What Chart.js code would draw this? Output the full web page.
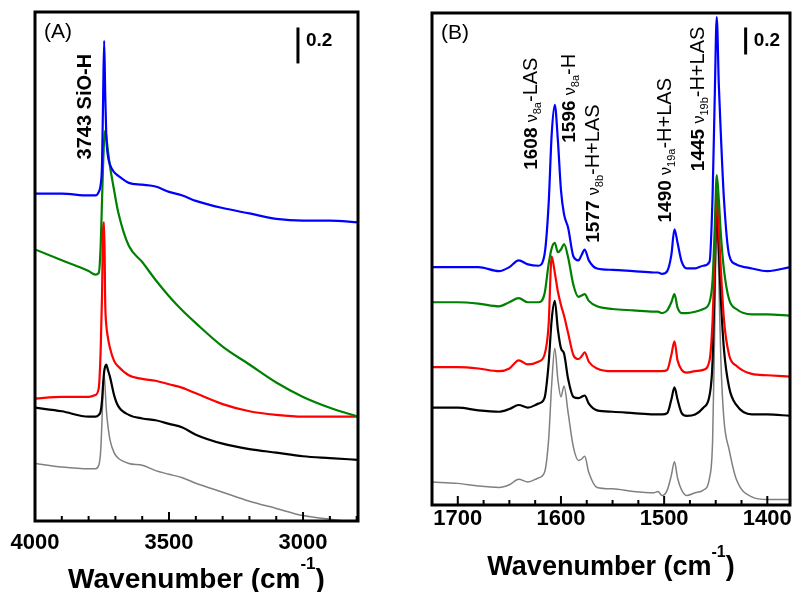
<!DOCTYPE html>
<html>
<head>
<meta charset="utf-8">
<script src="https://cdn.jsdelivr.net/npm/chart.js@4.4.0/dist/chart.umd.min.js"></script>
<style>
  body { margin: 0; background: #fff; }
  #wrap { position: relative; width: 792px; height: 592px; }
  canvas { position: absolute; top: 0; }
  #chartA { left: 0; }
  #chartB { left: 396px; }
</style>
</head>
<body>
<div id="wrap">
  <canvas id="chartA" width="396" height="592"></canvas>
  <canvas id="chartB" width="396" height="592"></canvas>
</div>
<script>
// Panel (A): OH stretching region, wavenumber grid and absorbance of each spectrum
const wnA = [4000, 3900, 3800, 3775, 3762, 3755, 3750, 3746, 3742, 3738, 3734, 3728, 3720, 3705, 3690, 3650, 3600, 3550, 3500, 3450, 3400, 3300, 3200, 3100, 3000, 2900, 2795]
const aBlue  = [1.82, 1.82, 1.81, 1.81, 1.83, 1.87, 1.98, 2.34, 2.67, 2.37, 2.14, 2.03, 1.98, 1.94, 1.92, 1.88, 1.87, 1.86, 1.83, 1.81, 1.78, 1.74, 1.71, 1.68, 1.67, 1.67, 1.66]
const aGreen = [1.51, 1.45, 1.39, 1.37, 1.38, 1.53, 1.78, 1.98, 2.12, 2.17, 2.14, 2.06, 1.97, 1.84, 1.72, 1.53, 1.44, 1.34, 1.25, 1.17, 1.10, 0.97, 0.87, 0.77, 0.69, 0.63, 0.58]
const aRed   = [0.68, 0.69, 0.69, 0.70, 0.74, 0.95, 1.25, 1.62, 1.66, 1.21, 1.09, 1.02, 0.96, 0.89, 0.86, 0.81, 0.79, 0.78, 0.76, 0.74, 0.71, 0.65, 0.61, 0.59, 0.58, 0.58, 0.58]
const aBlack = [0.63, 0.61, 0.58, 0.58, 0.59, 0.61, 0.67, 0.76, 0.83, 0.86, 0.87, 0.84, 0.80, 0.70, 0.64, 0.59, 0.57, 0.56, 0.54, 0.52, 0.48, 0.43, 0.40, 0.38, 0.36, 0.35, 0.34]
const aGray  = [0.32, 0.30, 0.29, 0.29, 0.31, 0.39, 0.56, 0.73, 0.81, 0.73, 0.62, 0.53, 0.45, 0.38, 0.35, 0.32, 0.31, 0.28, 0.26, 0.24, 0.21, 0.16, 0.11, 0.07, 0.03, 0.01, -0.01]

// Panel (B): pyridine ring region
const wnB = [1725, 1700, 1680, 1660, 1650, 1641, 1632, 1622, 1616, 1612, 1609, 1606, 1603, 1600, 1597, 1593, 1588, 1583, 1580, 1577, 1573, 1565, 1550, 1530, 1510, 1506, 1502, 1497, 1493, 1490, 1487, 1483, 1478, 1470, 1462, 1456, 1453, 1451, 1449, 1447, 1445, 1442, 1437, 1430, 1415, 1400, 1378]
const bBlue  = [1.76, 1.76, 1.76, 1.73, 1.76, 1.81, 1.78, 1.77, 1.85, 2.22, 2.74, 2.96, 2.70, 2.33, 2.15, 2.05, 1.84, 1.81, 1.85, 1.89, 1.81, 1.75, 1.74, 1.73, 1.72, 1.72, 1.71, 1.73, 1.85, 2.04, 1.94, 1.80, 1.75, 1.75, 1.77, 1.80, 2.30, 3.00, 3.61, 3.11, 2.74, 2.26, 1.85, 1.78, 1.75, 1.73, 1.76]
const bGreen = [1.50, 1.50, 1.49, 1.47, 1.50, 1.53, 1.50, 1.50, 1.56, 1.78, 1.90, 1.94, 1.87, 1.89, 1.93, 1.83, 1.63, 1.54, 1.55, 1.56, 1.51, 1.47, 1.45, 1.44, 1.43, 1.43, 1.42, 1.44, 1.50, 1.56, 1.46, 1.42, 1.42, 1.43, 1.45, 1.50, 1.67, 2.04, 2.44, 2.26, 2.00, 1.74, 1.52, 1.45, 1.41, 1.41, 1.40]
const bRed   = [1.02, 1.02, 1.01, 0.99, 1.01, 1.07, 1.04, 1.06, 1.11, 1.33, 1.84, 1.72, 1.58, 1.48, 1.40, 1.27, 1.11, 1.08, 1.10, 1.13, 1.06, 1.01, 0.99, 0.99, 0.99, 0.99, 0.99, 1.00, 1.11, 1.21, 1.07, 1.00, 0.98, 0.99, 1.00, 1.07, 1.37, 1.81, 2.33, 2.04, 1.74, 1.37, 1.11, 1.03, 0.97, 0.96, 0.95]
const bBlack = [0.72, 0.72, 0.70, 0.69, 0.71, 0.74, 0.72, 0.75, 0.79, 1.04, 1.37, 1.51, 1.30, 1.16, 1.12, 0.93, 0.80, 0.79, 0.80, 0.81, 0.75, 0.70, 0.69, 0.68, 0.67, 0.67, 0.67, 0.68, 0.78, 0.87, 0.78, 0.68, 0.66, 0.67, 0.72, 0.81, 1.07, 1.67, 2.19, 1.89, 1.52, 1.15, 0.87, 0.74, 0.67, 0.67, 0.66]
const bGray  = [0.17, 0.16, 0.14, 0.13, 0.15, 0.19, 0.17, 0.20, 0.24, 0.48, 0.89, 1.16, 0.93, 0.80, 0.88, 0.68, 0.43, 0.33, 0.34, 0.36, 0.24, 0.13, 0.12, 0.10, 0.09, 0.10, 0.07, 0.11, 0.22, 0.32, 0.20, 0.11, 0.07, 0.09, 0.11, 0.20, 0.48, 1.30, 2.22, 1.67, 1.07, 0.63, 0.41, 0.19, 0.06, 0.04, 0.04]

// labelled ticks
const majorsA = [4000, 3500, 3000]
const majorsB = [1700, 1600, 1500, 1400]

const FONT = 'Arial, "Liberation Sans", sans-serif'
const colors = ['#0000ff', '#008000', '#ff0000', '#000000', '#808080']

function series(wn, ys, color, width) {
  return {
    data: wn.map((x, i) => ({ x, y: ys[i] })),
    borderColor: color,
    borderWidth: width,
    pointRadius: 0,
    fill: false,
    cubicInterpolationMode: 'monotone'
  }
}

function drawRotated(ctx, px, py, parts) {
  ctx.save()
  ctx.translate(px, py)
  ctx.rotate(-Math.PI / 2)
  ctx.textAlign = 'left'
  ctx.textBaseline = 'alphabetic'
  let cx = 0
  parts.forEach(p => {
    ctx.font = p.f
    ctx.fillText(p.t, cx, p.dy || 0)
    cx += ctx.measureText(p.t).width
  })
  ctx.restore()
}

function note(num, sub, rest) {
  return [
    { t: num + ' ', f: 'bold 19px ' + FONT },
    { t: 'ν', f: '16px ' + FONT },
    { t: sub, f: '11px ' + FONT, dy: 4 },
    { t: rest, f: '20px ' + FONT }
  ]
}

// frame, inward ticks, panel letter, scale bar, peak notes and axis title
const decor = {
  id: 'decor',
  afterDraw(chart, args, o) {
    const { ctx, chartArea: a } = chart
    const x = chart.scales.x, y = chart.scales.y
    ctx.save()
    ctx.fillStyle = '#000'
    ctx.strokeStyle = '#000'

    ctx.lineWidth = 2
    x.ticks.forEach(t => {
      const px = x.getPixelForValue(t.value)
      const len = o.majors.includes(t.value) ? 9 : 5
      ctx.beginPath()
      ctx.moveTo(px, a.bottom)
      ctx.lineTo(px, a.bottom - len)
      ctx.stroke()
    })

    ctx.lineWidth = 3
    ctx.strokeRect(a.left, a.top, a.right - a.left, a.bottom - a.top)

    ctx.textAlign = 'left'
    ctx.textBaseline = 'alphabetic'
    ctx.font = '21px ' + FONT
    ctx.fillText(o.letter, a.left + 9, a.top + 26)

    const bx = x.getPixelForValue(o.bar.x)
    const by0 = y.getPixelForValue(o.bar.y)
    const by1 = y.getPixelForValue(o.bar.y + 0.2)
    ctx.lineWidth = 3
    ctx.beginPath()
    ctx.moveTo(bx, by0)
    ctx.lineTo(bx, by1)
    ctx.stroke()
    ctx.font = 'bold 19px ' + FONT
    ctx.fillText('0.2', bx + 8, by1 + 19)

    o.notes.forEach(n => drawRotated(ctx, x.getPixelForValue(n.x), y.getPixelForValue(n.y), n.parts))

    // axis title with superscript
    const big = 'bold ' + o.titleSize + 'px ' + FONT
    const small = 'bold ' + Math.round(o.titleSize * 0.6) + 'px ' + FONT
    const t1 = 'Wavenumber (cm', t2 = '-1', t3 = ')'
    ctx.font = big
    const w1 = ctx.measureText(t1).width, w3 = ctx.measureText(t3).width
    ctx.font = small
    const w2 = ctx.measureText(t2).width
    let tx = (a.left + a.right) / 2 - (w1 + w2 + w3) / 2
    const ty = a.bottom + o.titleGap
    ctx.font = big
    ctx.fillText(t1, tx, ty)
    tx += w1
    ctx.font = small
    ctx.fillText(t2, tx, ty - o.titleSize * 0.68)
    tx += w2
    ctx.font = big
    ctx.fillText(t3, tx, ty)
    ctx.restore()
  }
}

function makeChart(id, wn, sets, xr, yMax, majors, step, pad, axisH, tickPad, deco) {
  const widths = [2.2, 2.2, 2.2, 2.2, 1.5]
  return new Chart(document.getElementById(id), {
    type: 'line',
    data: { datasets: sets.map((s, i) => series(wn, s, colors[i], widths[i])) },
    options: {
      responsive: false,
      animation: false,
      events: [],
      layout: { padding: pad },
      scales: {
        x: {
          type: 'linear',
          min: xr[0],
          max: xr[1],
          reverse: true,
          grid: { display: false, drawTicks: false },
          border: { display: false },
          afterBuildTicks: s => {
            // one tick per step, the chart's tick-limit would thin them out otherwise
            const t = []
            for (let v = Math.ceil(xr[0] / step) * step; v <= xr[1]; v += step) t.push({ value: v })
            s.ticks = t
          },
          ticks: {
            autoSkip: false,
            maxRotation: 0,
            padding: tickPad,
            color: '#000',
            font: { family: FONT, size: 22, weight: 'bold' },
            callback: v => majors.includes(v) ? String(v) : ''
          },
          afterFit: s => { s.height = axisH }
        },
        y: { display: false, min: 0, max: yMax }
      },
      plugins: {
        legend: { display: false },
        tooltip: { enabled: false },
        decor: deco
      }
    },
    plugins: [decor]
  })
}

makeChart('chartA', wnA, [aBlue, aGreen, aRed, aBlack, aGray], [2795, 4000], 2.83, majorsA, 100,
  { left: 35, right: 38, top: 12, bottom: 0 }, 71, 9, {
    letter: '(A)',
    majors: majorsA,
    bar: { x: 3019, y: 2.544 },
    titleSize: 28,
    titleGap: 67,
    notes: [{ x: 3792, y: 2.01, parts: [{ t: '3743 SiO-H', f: 'bold 20px ' + FONT }] }]
  })

makeChart('chartB', wnB, [bBlue, bGreen, bRed, bBlack, bGray], [1378, 1725], 3.64, majorsB, 25,
  { left: 36, right: 2, top: 13, bottom: 0 }, 87, 1, {
    letter: '(B)',
    majors: majorsB,
    bar: { x: 1421, y: 3.333 },
    titleSize: 27,
    titleGap: 70,
    notes: [
      { x: 1623, y: 2.48, parts: note('1608', '8a', '-LAS') },
      { x: 1586, y: 2.68, parts: note('1596', '8a', '-H') },
      { x: 1563, y: 1.94, parts: note('1577', '8b', '-H+LAS') },
      { x: 1493, y: 2.09, parts: note('1490', '19a', '-H+LAS') },
      { x: 1461, y: 2.47, parts: note('1445', '19b', '-H+LAS') }
    ]
  })
</script>
</body>
</html>
